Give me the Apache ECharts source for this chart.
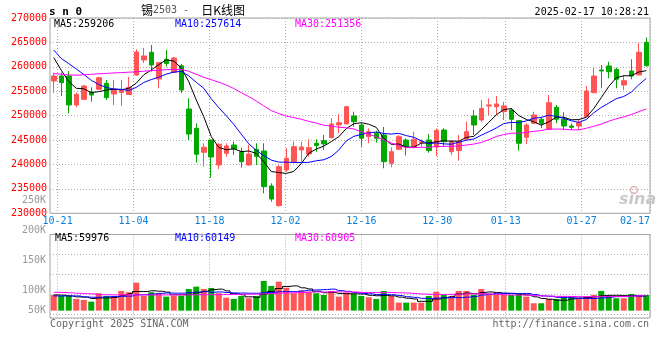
<!DOCTYPE html>
<html><head><meta charset="utf-8">
<script src="https://cdn.jsdelivr.net/npm/echarts@6/dist/echarts.min.js"></script>
<style>html,body{margin:0;padding:0;background:#fff}#c{width:660px;height:360px}</style>
</head><body><div id="c"></div>
<script>
const dates = ['10-18','10-21','10-22','10-23','10-24','10-25','10-28','10-29','10-30','10-31','11-01','11-04','11-05','11-06','11-07','11-08','11-11','11-12','11-13','11-14','11-15','11-18','11-19','11-20','11-21','11-22','11-25','11-26','11-27','11-28','11-29','12-02','12-03','12-04','12-05','12-06','12-09','12-10','12-11','12-12','12-13','12-16','12-17','12-18','12-19','12-20','12-23','12-24','12-25','12-26','12-27','12-30','12-31','01-02','01-03','01-06','01-07','01-08','01-09','01-10','01-13','01-14','01-15','01-16','01-17','01-20','01-21','01-22','01-23','01-24','01-27','02-05','02-06','02-07','02-10','02-11','02-12','02-13','02-14','02-17'];
const tickLabels = ['10-21','11-04','11-18','12-02','12-16','12-30','01-13','01-27','02-17'];

const openP = [257100,258120,258120,252180,253350,254840,255400,256630,254430,254740,
254330,258330,261400,262980,257510,261540,258840,260210,251360,247410,
242500,245010,239900,242290,243990,242620,239900,243110,242760,235590,
231600,238870,240570,242970,242150,244340,244870,245490,248090,248290,
249930,248090,245690,246390,246040,240240,243110,245010,243640,244500,
245010,243580,247060,242620,242860,245180,249930,249110,251980,251830,
250810,251160,248970,245570,248430,249250,247210,251710,249250,247880,
247880,249790,254700,259350,260170,259490,256280,259140,258330,265020];
const closeP = [258120,256750,252180,254370,256070,254230,257770,253680,255400,255360,
255770,263040,262220,260370,260840,260680,261810,255250,246240,242090,
243520,241530,244130,243790,243170,240570,242150,241670,235450,232930,
239550,241270,243640,243580,243440,243890,244200,248290,248560,251830,
248760,245360,246710,245360,240570,242620,245690,243640,245160,244670,
242860,246960,244670,244670,244670,246710,248090,251470,252180,252390,
251980,249250,244340,248090,250130,248430,252650,249250,247880,247610,
248560,255050,258120,259140,259000,257450,257160,258120,262980,260230];
const lowP = [254700,254030,250480,251710,253210,252860,255250,253210,252180,251980,
254230,258120,260780,259000,255600,260030,258670,254640,245010,240370,
239550,237230,239080,241530,241940,239340,239750,239900,234100,232380,
231290,238520,240240,240570,241590,242620,242970,245360,246390,248290,
247740,243640,244340,244460,239220,239430,242970,241840,243310,243640,
242410,241740,243640,241940,240770,244950,246040,248760,250130,250130,
249110,247060,242820,244200,248290,247410,247060,248430,247060,247060,
247060,249660,254580,255600,257650,255600,255250,257450,258330,260030];
const highP = [258800,258800,259150,254700,256280,255810,257980,257300,257300,257300,
257920,263590,263860,264470,260990,263450,262070,260580,253550,248430,
244340,245010,244340,244340,244670,243440,243990,244340,244340,236140,
239900,243310,244670,244670,245160,245160,246040,249460,250340,252040,
250810,248430,247410,246920,247680,243520,246040,245360,246710,245160,
246240,247370,247410,245010,246040,248760,251160,253210,253550,254030,
252800,251510,249110,248430,250810,249660,254230,252180,250690,248430,
249250,256070,259820,260370,261050,259820,258330,261540,264820,266000];

const ma5 = [261900,259300,257000,255600,255500,254720,254920,255220,255430,255290,
255600,256650,258360,259350,260450,261430,261180,259790,256960,253210,
249780,245730,243500,243010,243230,242640,242760,242270,240600,238550,
238350,238170,238570,240190,242300,243160,243750,244680,245680,247350,
248330,248560,248240,247600,245350,244120,244190,243580,243540,244360,
244400,244660,244860,244770,244770,245540,245760,247120,248620,250170,
251220,251450,250030,249210,248760,248050,248730,249710,249670,249160,
249190,249670,251440,253700,255970,257750,258170,258170,258940,259206];
const ma10 = [263450,261700,260660,259560,258450,257240,256380,255770,255460,255390,
255160,255790,256790,257390,257870,258510,258920,259070,258160,256830,
255610,253460,251650,249990,248220,246210,244240,242890,241810,240890,
240490,240470,240420,240400,240430,240760,240960,241620,242940,244830,
245750,246160,246460,246640,246350,246230,246380,245910,245570,244850,
244260,244420,244220,244150,244560,244970,245210,245990,246700,247470,
248380,248610,248580,248920,249460,249640,250090,249870,249440,248960,
248620,249200,250580,251680,252570,253470,253920,254810,256320,257614];
const ma30 = [258630,258470,258350,258290,258370,258470,258570,258650,258740,258820,
258900,258980,259100,259210,259310,259410,259490,259450,259090,258470,
257840,257360,256850,256280,255560,254700,253900,253000,252000,251040,
250420,249900,249620,249260,248840,248490,248040,247860,247630,247520,
247280,246690,246180,245680,245000,244400,243860,243470,243440,243520,
243500,243680,243700,243730,243780,243980,244180,244510,245070,245720,
246130,246400,246420,246570,246790,246940,247230,247260,247230,247090,
247090,247410,247840,248250,248860,249360,249740,250220,250820,251356];

const vol = [63900,59800,59800,47600,43500,36600,70800,59800,59800,80200,
74900,114000,59800,74900,70800,57000,59800,59800,88300,97700,
88300,92400,70800,52900,47600,59800,50500,59800,120900,100500,
118000,93600,70800,81400,77300,70800,63900,80200,57000,73300,
68000,59800,54500,47600,80200,59800,32600,32600,32600,32600,
59800,77300,63900,57000,80200,80200,63900,88300,68000,68000,
63900,63900,66700,57000,30100,30100,47600,47600,57000,57000,
47600,57000,63900,80200,61100,50500,50500,68000,63900,63900];
const volMa5 = [63900,63000,60000,56000,54900,49500,51700,51700,54100,61400,
69100,77700,77700,80800,78900,75300,64500,64500,67100,72500,
78800,85300,87500,80400,70400,64700,56300,54100,67700,78300,
89900,98600,100800,92900,88200,78800,72800,74700,69800,69000,
68500,67700,62500,60600,62000,60400,54900,50600,47600,38000,
38000,47000,53200,58100,67600,71700,69000,73900,76100,73700,
70400,70400,66100,63900,56300,49600,46300,42500,42500,47900,
51400,53200,56500,61100,62000,62500,61200,62100,58800,59976];
const volMa10 = [59800,59800,59800,59800,56000,54500,54500,56000,57500,58200,
59300,64700,64700,67400,70200,72200,71100,71100,74000,75700,
77000,74900,76000,73800,71500,71700,70800,70800,74100,74400,
77300,77400,77400,80300,83300,84400,85700,87700,81400,78600,
73600,70300,68600,65200,65500,64400,61300,56500,54100,50000,
49200,51000,51900,52800,52800,54900,58000,63600,67100,70700,
71100,69700,70000,70000,65000,60000,58400,54300,53200,52100,
50500,49800,49500,51800,54900,57000,57200,59300,60000,60149];
const volMa30 = [74900,74000,72500,70800,69500,68000,65000,64500,64000,64000,
63900,63900,63900,63900,64000,64000,64000,64200,64400,64600,
64800,65000,65200,65500,66000,66500,67000,67500,68500,69400,
71200,72300,72700,73800,75000,76100,75900,76600,76500,76200,
76000,74200,74000,73100,73400,73500,72600,71700,69800,67700,
66700,66200,66000,66100,67200,67900,68300,69300,67500,66400,
64600,63600,63500,62700,61100,59800,59200,58100,58100,57600,
56900,56800,57100,58200,57600,57300,57900,59100,60100,60905];

const priceMaLabels = ['MA5:259206','MA10:257614','MA30:251356'];
const volMaLabels = ['MA5:59976','MA10:60149','MA30:60905'];

const UP = '#ff5555', DOWN = '#00a800';
const MONO = '"DejaVu Sans Mono", monospace';
const MA_COLORS = ['#000000','#0000ff','#ff00ff'];
const dotted = {color:'#ababab', width:1, type:[1,2]};

const candleData = dates.map((d,i)=>[openP[i], closeP[i], lowP[i], highP[i]]);
const volData = vol.map((v,i)=>({value:v, itemStyle:{color: closeP[i] >= openP[i] ? UP : DOWN}}));
const tickIdx = tickLabels.map(t=>dates.indexOf(t));

const chart = echarts.init(document.getElementById('c'), null, {renderer:'canvas', width:660, height:360});

function txt(x, y, text, fill, align, font){
  return {type:'text', x:x, y:y, silent:true, z:100,
    style:{text:text, fill:fill, font:font || ('10px ' + MONO), align:align||'left', verticalAlign:'middle', textAlign:align||'left', textVerticalAlign:'middle'}};
}

const option = {
  animation:false,
  backgroundColor:'#ffffff',
  grid:[
    {left:50, right:10, top:18, height:195.3, show:true, borderColor:'#a3a3a3', borderWidth:1},
    {left:50, right:10, top:234.5, height:83.5, show:true, borderColor:'#a3a3a3', borderWidth:1},
    {left:50, right:10, top:200.7, height:120, show:false}
  ],
  xAxis:[
    {type:'category', gridIndex:0, data:dates, boundaryGap:true, show:false},
    {type:'value', gridIndex:0, min:0, max:dates.length-1, position:'bottom',
      axisLine:{show:false}, axisTick:{show:false, customValues:tickIdx},
      axisLabel:{customValues:tickIdx, formatter:v=>dates[Math.round(v)], color:'#0a80dc', fontFamily:MONO, fontSize:10, margin:3,
        alignMaxLabel:'right', showMaxLabel:true, showMinLabel:true},
      splitLine:{show:true, lineStyle:dotted}},
    {type:'category', gridIndex:1, data:dates, boundaryGap:true, show:false},
    {type:'value', gridIndex:1, min:0, max:dates.length-1, position:'bottom',
      axisLine:{show:false}, axisTick:{show:false, customValues:tickIdx},
      axisLabel:{show:false, customValues:tickIdx},
      splitLine:{show:true, lineStyle:dotted}},
    {type:'value', gridIndex:2, min:0, max:1, show:false}
  ],
  yAxis:[
    {type:'value', gridIndex:0, min:230000, max:270000, interval:5000,
      axisLine:{show:false}, axisTick:{show:false},
      axisLabel:{color:'#ff0000', fontFamily:MONO, fontSize:10, margin:3, showMinLabel:true, showMaxLabel:true,
        formatter:v => String(v)},
      splitLine:{show:true, lineStyle:dotted}},
    {type:'value', gridIndex:1, min:-30000, max:310000, show:false},
    {type:'value', gridIndex:1, min:0, max:4.175, interval:1, inverse:true, position:'right',
      axisLine:{show:false}, axisTick:{show:false}, axisLabel:{show:false},
      splitLine:{show:true, lineStyle:dotted}},
    {type:'value', gridIndex:2, min:50000, max:250000, interval:50000, position:'left',
      axisLine:{show:false}, axisTick:{show:false}, splitLine:{show:false},
      axisLabel:{color:'#999999', fontFamily:MONO, fontSize:10, margin:4, showMinLabel:true, showMaxLabel:true,
        formatter:v => v === 50000 ? '{low|' + (v/1000) + 'K}' : (v/1000) + 'K',
        rich:{low:{padding:[0,0,20,0], color:'#999999', fontFamily:MONO, fontSize:10}}}}
  ],
  series:[
    {type:'candlestick', xAxisIndex:0, yAxisIndex:0, data:candleData, barWidth:5, silent:true,
      itemStyle:{color:UP, color0:DOWN, borderColor:UP, borderColor0:DOWN, borderWidth:1}},
    {type:'line', xAxisIndex:0, yAxisIndex:0, data:ma5, showSymbol:false, silent:true, lineStyle:{color:MA_COLORS[0], width:1}},
    {type:'line', xAxisIndex:0, yAxisIndex:0, data:ma10, showSymbol:false, silent:true, lineStyle:{color:MA_COLORS[1], width:1}},
    {type:'line', xAxisIndex:0, yAxisIndex:0, data:ma30, showSymbol:false, silent:true, lineStyle:{color:MA_COLORS[2], width:1}},
    {type:'bar', xAxisIndex:2, yAxisIndex:1, data:volData, barWidth:6, silent:true},
    {type:'line', xAxisIndex:2, yAxisIndex:1, data:volMa5, step:'middle', showSymbol:false, silent:true, lineStyle:{color:MA_COLORS[0], width:1}},
    {type:'line', xAxisIndex:2, yAxisIndex:1, data:volMa10, step:'middle', showSymbol:false, silent:true, lineStyle:{color:MA_COLORS[1], width:1}},
    {type:'line', xAxisIndex:2, yAxisIndex:1, data:volMa30, step:'middle', showSymbol:false, silent:true, lineStyle:{color:MA_COLORS[2], width:1}}
  ],
  graphic:[
    txt(49, 12, 's n 0', '#000', 'left', 'bold 11px ' + MONO),
    {type:'text', x:141, y:10, silent:true, z:100, style:{
      text:'{a|锡}{b|2503 -  }{a|日K线图}', verticalAlign:'middle', textVerticalAlign:'middle',
      rich:{a:{fontFamily:'"Noto Sans CJK SC"', fontSize:12, fill:'#000'}, b:{fontFamily:MONO, fontSize:10, fill:'#555'}}}},
    txt(649, 12, '2025-02-17 10:28:21', '#000', 'right'),
    txt(54, 24, priceMaLabels[0], MA_COLORS[0]),
    txt(175, 24, priceMaLabels[1], MA_COLORS[1]),
    txt(295, 24, priceMaLabels[2], MA_COLORS[2]),
    txt(55, 238.5, volMaLabels[0], MA_COLORS[0]),
    txt(175, 238.5, volMaLabels[1], MA_COLORS[1]),
    txt(295, 238.5, volMaLabels[2], MA_COLORS[2]),
    txt(50, 324, 'Copyright 2025 SINA.COM', '#666'),
    txt(649, 324, 'http://finance.sina.com.cn', '#666', 'right'),
    {type:'circle', silent:true, z:100, shape:{cx:634, cy:190, r:3.5}, style:{fill:'none', stroke:'#e6b4b4', lineWidth:1.5}},
    txt(619, 200, 'sina', '#c9c9c9', 'left', 'italic bold 16px "DejaVu Sans"')
  ]
};
chart.setOption(option);
</script>
</body></html>
